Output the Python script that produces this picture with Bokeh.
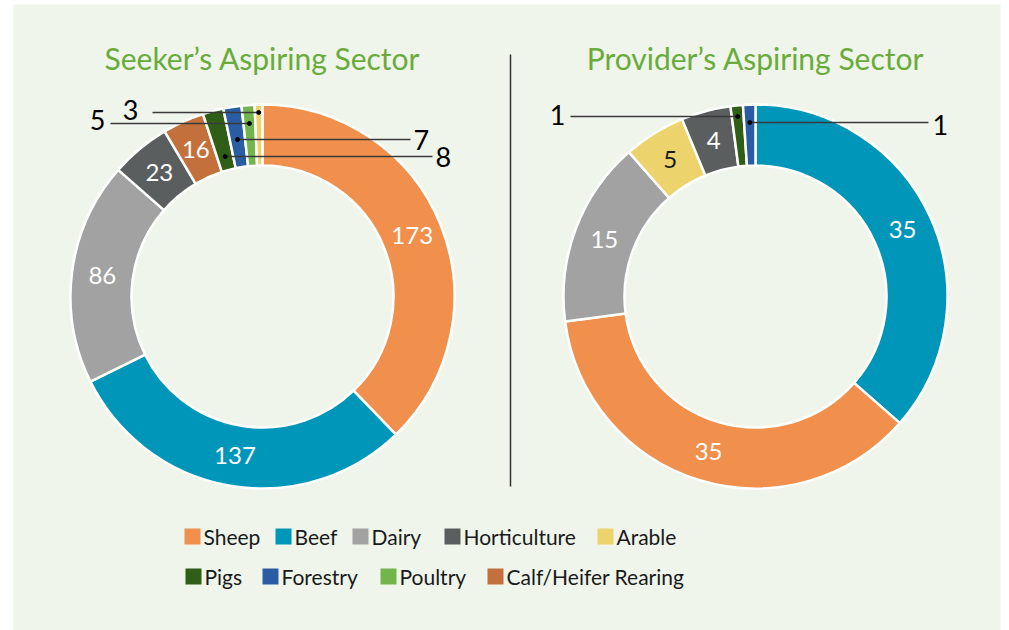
import numpy as np
from bokeh.plotting import figure
from bokeh.models import Range1d, ColumnDataSource
from bokeh.embed import file_html
from bokeh.resources import INLINE
from bokeh.core.properties import value

# ---------------- data ----------------
categories = ["Sheep", "Beef", "Dairy", "Horticulture", "Arable",
              "Pigs", "Forestry", "Poultry", "Calf/Heifer Rearing"]
category_colors = ["#f1904c", "#0096b9", "#a2a2a2", "#5a5e5e", "#ecd36b",
                   "#2f5f17", "#2a5ca3", "#72b54a", "#c4703c"]

seeker_sectors = ["Sheep", "Beef", "Dairy", "Horticulture", "Calf/Heifer Rearing",
                  "Pigs", "Forestry", "Poultry", "Arable"]
seeker_values = [173, 137, 86, 23, 16, 8, 7, 5, 3]

provider_sectors = ["Beef", "Sheep", "Dairy", "Arable", "Horticulture", "Pigs", "Forestry"]
provider_values = [35, 35, 15, 5, 4, 1, 1]

titles = ["Seeker’s Aspiring Sector", "Provider’s Aspiring Sector"]

# ---------------- layout ----------------
W, H = 1009, 630
FONT = value("Lato")
color_of = dict(zip(categories, category_colors))


def Y(py):
    return H - py


p = figure(width=W, height=H, x_range=Range1d(0, W), y_range=Range1d(0, H),
           output_backend="svg", toolbar_location=None,
           x_axis_location=None, y_axis_location=None, min_border=0)
p.grid.visible = False
p.outline_line_color = None
p.background_fill_color = "white"
p.border_fill_color = "white"

# panel background
p.quad(left=13, right=1000, bottom=0, top=Y(4), fill_color="#eff5ea", line_color=None)

# divider
p.segment(x0=[510], y0=[Y(54)], x1=[510], y1=[Y(486)], line_color="#333333", line_width=1.5)

R_OUT, R_IN = 192, 131
R_LAB = (R_OUT + R_IN) / 2


def donut(cx, cy_px, sectors, values, title, callouts):
    cy = Y(cy_px)
    vals = np.array(values, dtype=float)
    total = vals.sum()
    frac = vals / total
    cw_end = np.cumsum(frac)
    cw_start = cw_end - frac
    start = np.pi / 2 - 2 * np.pi * cw_end
    end = np.pi / 2 - 2 * np.pi * cw_start
    src = ColumnDataSource(dict(start=start, end=end,
                                color=[color_of[s] for s in sectors]))
    p.annular_wedge(x=cx, y=cy, inner_radius=R_IN, outer_radius=R_OUT,
                    start_angle="start", end_angle="end", fill_color="color",
                    line_color="white", line_width=2.5, source=src)
    # inside labels
    mid = 2 * np.pi * (cw_start + cw_end) / 2
    lx, ly, lt, lc = [], [], [], []
    for i, s in enumerate(sectors):
        if frac[i] > 0.03:
            lx.append(cx + R_LAB * np.sin(mid[i]))
            ly.append(cy + R_LAB * np.cos(mid[i]))
            lt.append(str(values[i]))
            lc.append("#1a1a1a" if s == "Arable" else "white")
    p.text(x=lx, y=ly, text=lt, text_color=lc, text_align="center",
           text_baseline="middle", text_font=FONT, text_font_size="24px")
    # callouts for thin slices
    for s, y_px, x_end, side, gap, dy in callouts:
        i = sectors.index(s)
        h = cy_px - y_px
        dx = cx + h * np.tan(mid[i])
        p.segment(x0=[dx], y0=[Y(y_px)], x1=[x_end], y1=[Y(y_px)],
                  line_color="#3a3a3a", line_width=1.5)
        p.scatter(x=[dx], y=[Y(y_px)], size=4, color="black")
        if side == "left":
            p.text(x=[x_end - gap], y=[Y(y_px) + dy], text=[str(values[i])],
                   text_align="right", text_baseline="middle", text_color="black",
                   text_font=FONT, text_font_size="27px")
        else:
            p.text(x=[x_end + gap], y=[Y(y_px) + dy], text=[str(values[i])],
                   text_align="left", text_baseline="middle", text_color="black",
                   text_font=FONT, text_font_size="27px")
    # title
    p.text(x=[cx], y=[Y(57)], text=[title], text_align="center", text_baseline="middle",
           text_color="#6aab3b", text_font=FONT, text_font_size="30px")


donut(262, 296, seeker_sectors, seeker_values, titles[0],
      [("Arable", 112, 152, "left", 14, 3), ("Poultry", 123, 110, "left", 5, 4),
       ("Forestry", 139, 410, "right", 3, 0), ("Pigs", 156, 432, "right", 3, 0)])
donut(755, 296, provider_sectors, provider_values, titles[1],
      [("Pigs", 116, 570, "left", 5, 2), ("Forestry", 122, 928, "right", 4, -2)])

# legend (manual, two rows)
legend_rows = [categories[:5], categories[5:]]
row_lefts = [[184, 275, 352, 444, 597], [185, 262, 380, 487]]
row_y = [536, 576]
SQ = 16
for names, lefts, yy in zip(legend_rows, row_lefts, row_y):
    p.rect(x=[l + SQ / 2 for l in lefts], y=[Y(yy)] * len(lefts), width=SQ, height=SQ,
           fill_color=[color_of[n] for n in names], line_color=None)
    p.text(x=[l + SQ + 3 for l in lefts], y=[Y(yy)] * len(lefts), text=names,
           text_align="left", text_baseline="middle", text_color="#1a1a1a",
           text_font=FONT, text_font_size="21px")

open("out.html", "w").write(file_html(p, INLINE))
